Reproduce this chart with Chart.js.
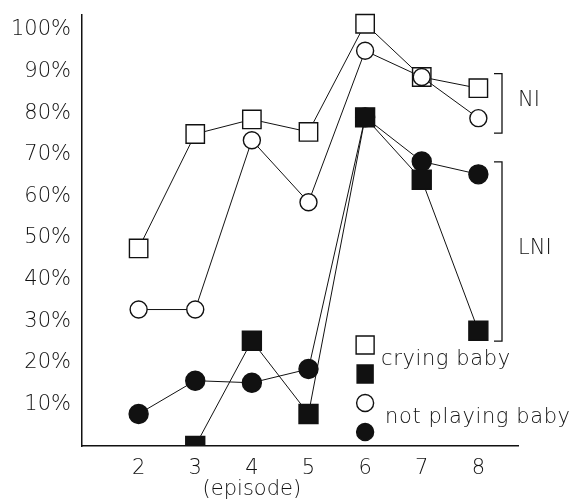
<!DOCTYPE html>
<html>
<head>
<meta charset="utf-8">
<title>Episodes</title>
<script src="https://cdn.jsdelivr.net/npm/chart.js@4.4.1/dist/chart.umd.min.js"></script>
<style>
  html, body { margin: 0; padding: 0; background: #fff; }
  #wrap { width: 573px; height: 502px; position: relative; }
</style>
</head>
<body>
<div id="wrap"><canvas id="chart"></canvas></div>
<script>
// data (percent per episode)
const episodes = [2, 3, 4, 5, 6, 7, 8];
const cryingNI = [47.5, 75, 78.5, 75.5, 101.5, 88.7, 86];
const notPlayingNI = [32.8, 32.8, 73.5, 58.6, 95, 88.7, 78.8];
const cryingLNI = [null, 0, 25.3, 7.7, 79, 64, 27.7];
const notPlayingLNI = [7.7, 15.7, 15.2, 18.5, 79, 68.4, 65.3];

const yTickLabels = [10, 20, 30, 40, 50, 60, 70, 80, 90, 100];
const xTitle = '(episode)';

const brackets = [
  { label: 'NI', from: 75.2, to: 89.5 },
  { label: 'LNI', from: 25.2, to: 68.3 }
];

const legendRows = [
  { label: 'crying baby', markers: ['openRect', 'filledRect'] },
  { label: 'not playing baby', markers: ['openCircle', 'filledCircle'] }
];

const FONT = '"DejaVu Sans", "Liberation Sans", sans-serif';
const INK = '#111';

const toPoints = values => episodes.map((x, i) => ({ x: x, y: values[i] }));

function series(label, values, style, radius, filled) {
  return {
    label: label,
    data: toPoints(values),
    borderColor: INK,
    borderWidth: 1,
    pointStyle: style,
    pointRadius: radius,
    pointHoverRadius: radius,
    pointBorderWidth: 1.4,
    pointBorderColor: INK,
    pointBackgroundColor: filled ? INK : '#fff',
    tension: 0,
    fill: false,
    clip: { left: 20, top: 20, right: 20, bottom: 0 }
  };
}

function drawMarker(ctx, kind, x, y) {
  ctx.save();
  ctx.lineWidth = 1.4;
  ctx.strokeStyle = INK;
  ctx.fillStyle = kind.startsWith('filled') ? INK : '#fff';
  ctx.beginPath();
  if (kind.endsWith('Rect')) {
    const s = kind === 'filledRect' ? 8 : 9;
    ctx.rect(x - s, y - 9, 2 * s, 18);
  } else {
    ctx.arc(x, y, 8.5, 0, Math.PI * 2);
  }
  ctx.fill();
  ctx.stroke();
  ctx.restore();
}

const extras = {
  id: 'extras',
  afterDraw(chart) {
    const { ctx, chartArea, scales } = chart;
    const xs = scales.x, ys = scales.y;
    ctx.save();
    ctx.fillStyle = INK;
    ctx.strokeStyle = INK;
    ctx.font = '200 21px ' + FONT;
    ctx.textBaseline = 'middle';

    // x axis title, centred under episode 4
    ctx.textAlign = 'center';
    ctx.fillText(xTitle, xs.getPixelForValue(4), 490);

    // brackets on the right
    const bx = chartArea.right - 16;
    ctx.lineWidth = 1.3;
    ctx.textAlign = 'left';
    brackets.forEach(b => {
      const y1 = ys.getPixelForValue(b.to);
      const y2 = ys.getPixelForValue(b.from);
      ctx.beginPath();
      ctx.moveTo(bx - 8, y1);
      ctx.lineTo(bx, y1);
      ctx.lineTo(bx, y2);
      ctx.lineTo(bx - 8, y2);
      ctx.stroke();
      ctx.fillText(b.label, bx + 16, (y1 + y2) / 2 - 3);
    });

    // legend
    ctx.letterSpacing = '0.6px';
    const lx = xs.getPixelForValue(6);
    let my = 345;
    legendRows.forEach(row => {
      const ys2 = row.markers.map((m, i) => my + i * 29);
      row.markers.forEach((m, i) => drawMarker(ctx, m, lx, ys2[i]));
      ctx.fillText(row.label, lx + 16 + (row.markers[0] === 'openCircle' ? 4 : 0), (ys2[0] + ys2[1]) / 2);
      my += 58;
    });
    ctx.restore();
  }
};

new Chart(document.getElementById('chart'), {
  type: 'line',
  data: {
    datasets: [
      series('crying baby LNI', cryingLNI, 'rect', 13.4, true),
      series('not playing baby LNI', notPlayingLNI, 'circle', 9.5, true),
      series('not playing baby NI', notPlayingNI, 'circle', 8.5, false),
      series('crying baby NI', cryingNI, 'rect', 13, false)
    ]
  },
  options: {
    responsive: true,
    maintainAspectRatio: false,
    animation: false,
    layout: { padding: { left: 0, top: 15, right: 55, bottom: 0 } },
    plugins: { legend: { display: false }, tooltip: { enabled: false } },
    scales: {
      x: {
        type: 'linear',
        min: 1,
        max: 8.7,
        grid: { display: false, drawTicks: false },
        border: { display: true, color: INK, width: 1.5 },
        ticks: {
          stepSize: 1,
          includeBounds: false,
          padding: 10,
          color: INK,
          font: { family: FONT, size: 21, weight: 200 },
          callback: v => episodes.includes(v) ? String(v) : ''
        },
        afterFit: s => { s.height = 56; s.paddingLeft = 0; s.paddingRight = 0; }
      },
      y: {
        min: 0,
        max: 103.6,
        grid: { display: false, drawTicks: false },
        border: { display: true, color: INK, width: 1.5 },
        ticks: {
          stepSize: 10,
          includeBounds: false,
          padding: 11,
          color: INK,
          font: { family: FONT, size: 21, weight: 200 },
          callback: v => yTickLabels.includes(v) ? v + '%' : ''
        },
        afterFit: s => { s.width = 82; s.paddingTop = 0; s.paddingBottom = 0; }
      }
    }
  },
  plugins: [extras]
});
</script>
</body>
</html>
